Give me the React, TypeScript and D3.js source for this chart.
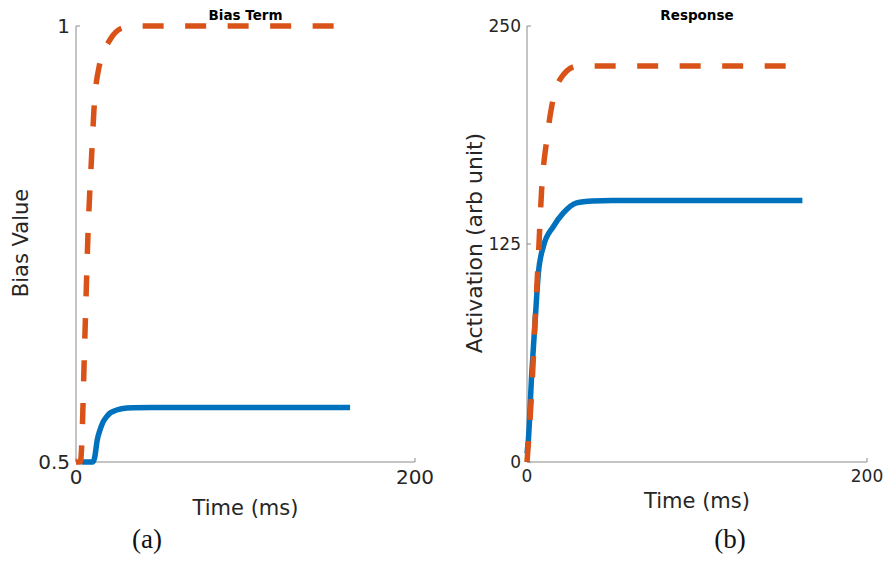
import React from "react"
import * as d3 from "d3"

// ---- data ----
const biasTimeOrange = [0, 2.5, 2.8, 5.3, 7.1, 9.4, 10.6, 13.6, 20, 27.7, 35, 154]
const biasValueOrange = [0.5, 0.5, 0.502, 0.648, 0.763, 0.858, 0.904, 0.953, 0.984, 0.998, 1.0, 1.0]
const biasTimeBlue = [3.5, 10, 11, 12.5, 14.2, 16, 18.1, 20, 24, 30, 33.6, 45, 161.7]
const biasValueBlue = [0.5, 0.5, 0.505, 0.525, 0.537, 0.546, 0.552, 0.556, 0.5596, 0.562, 0.5623, 0.5625, 0.5625]

const respTimeOrange = [0, 2.8, 4.7, 6.7, 8.6, 11.6, 14.5, 19.4, 29.2, 40, 156]
const respValueOrange = [0, 41.3, 79.6, 117.7, 155.9, 184.6, 203.7, 219.3, 226.9, 227, 227]
const respTimeBlue = [0, 0.8, 2.8, 4.7, 6.7, 9.6, 15.5, 21.4, 29.2, 38.8, 50, 162]
const respValueBlue = [5, 12.6, 51, 79.6, 108.4, 123.5, 135, 142.8, 148.6, 149.7, 150, 150]

const xTicks = [0, 200]
const biasTicks = [0.5, 1]
const biasTickLabels = ["0.5", "1"]
const respTicks = [0, 125, 250]
const respTickLabels = ["0", "125", "250"]

const BLUE = "#0072BD"
const ORANGE = "#D95319"
const AXIS = "#8a8a8a"
const TEXT = "#262626"
const SANS = "DejaVu Sans, sans-serif"

type PanelProps = {
    x0: number
    x1: number
    y0: number
    y1: number
    yDomain: [number, number]
    yTicks: number[]
    yTickLabels: string[]
    title: string
    yLabel: string
    yLabelX: number
    yLabelSize: number
    tickSize: number
    xLabelY: number
    caption: string
    captionX: number
    blue: [number[], number[]]
    orange: [number[], number[]]
}

function Panel(p: PanelProps) {
    const x = d3.scaleLinear().domain([0, 200]).range([p.x0, p.x1])
    const y = d3.scaleLinear().domain(p.yDomain).range([p.y0, p.y1])
    const line = d3.line<[number, number]>()
        .x(d => x(d[0]))
        .y(d => y(d[1]))
        .curve(d3.curveMonotoneX)
    const pts = (s: [number[], number[]]) => s[0].map((t, i) => [t, s[1][i]] as [number, number])
    const cx = (p.x0 + p.x1) / 2

    return (
        <g>
            <text x={cx} y={20} textAnchor="middle" fontFamily={SANS} fontWeight="bold" fontSize={13.5} fill="#000">{p.title}</text>
            {/* axes */}
            <line x1={p.x0} x2={p.x1} y1={p.y0} y2={p.y0} stroke={AXIS} strokeWidth={1} />
            <line x1={p.x0} x2={p.x0} y1={p.y0} y2={p.y1} stroke={AXIS} strokeWidth={1} />
            {xTicks.map(t => (
                <g key={"x" + t}>
                    <line x1={x(t)} x2={x(t)} y1={p.y0} y2={p.y0 - 4} stroke={AXIS} />
                    <text x={x(t)} y={p.y0 + 7} dy="0.75em" textAnchor="middle" fontFamily={SANS} fontSize={p.tickSize} fill={TEXT}>{t}</text>
                </g>
            ))}
            {p.yTicks.map((t, i) => (
                <g key={"y" + t}>
                    <line x1={p.x0} x2={p.x0 + 4} y1={y(t)} y2={y(t)} stroke={AXIS} />
                    <text x={p.x0 - 6} y={y(t)} dy="0.36em" textAnchor="end" fontFamily={SANS} fontSize={p.tickSize} fill={TEXT}>{p.yTickLabels[i]}</text>
                </g>
            ))}
            <text x={cx} y={p.xLabelY} textAnchor="middle" fontFamily={SANS} fontSize={21} fill={TEXT}>Time (ms)</text>
            <text transform={`translate(${p.yLabelX},${(p.y0 + p.y1) / 2 - 1}) rotate(-90)`} textAnchor="middle" fontFamily={SANS} fontSize={p.yLabelSize} fill={TEXT}>{p.yLabel}</text>
            {/* series */}
            <path d={line(pts(p.blue)) || ""} fill="none" stroke={BLUE} strokeWidth={5.5} />
            <path d={line(pts(p.orange)) || ""} fill="none" stroke={ORANGE} strokeWidth={5.5} strokeDasharray="21 21.5" />
            <text x={p.captionX} y={548} textAnchor="middle" fontFamily="Liberation Serif, serif" fontSize={27} fill="#111">{p.caption}</text>
        </g>
    )
}

export default function App() {
    return (
        <svg width={887} height={563} style={{ position: "absolute", left: 0, top: 0, background: "#fff" }}>
            <rect width={887} height={563} fill="#fff" />
            <Panel x0={76} x1={415} y0={462} y1={26} yDomain={[0.5, 1]}
                yTicks={biasTicks} yTickLabels={biasTickLabels}
                title="Bias Term" yLabel="Bias Value" yLabelX={28} yLabelSize={21}
                tickSize={20} xLabelY={515} caption="(a)" captionX={147}
                blue={[biasTimeBlue, biasValueBlue]} orange={[biasTimeOrange, biasValueOrange]} />
            <Panel x0={527} x1={867} y0={462} y1={26} yDomain={[0, 250]}
                yTicks={respTicks} yTickLabels={respTickLabels}
                title="Response" yLabel="Activation (arb unit)" yLabelX={482} yLabelSize={22}
                tickSize={17} xLabelY={508} caption="(b)" captionX={730}
                blue={[respTimeBlue, respValueBlue]} orange={[respTimeOrange, respValueOrange]} />
        </svg>
    )
}
